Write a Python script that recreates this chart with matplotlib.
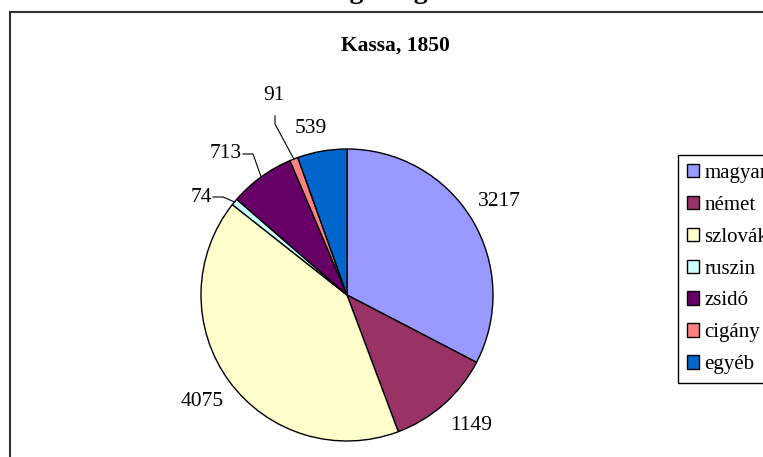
import matplotlib
matplotlib.use("Agg")
import matplotlib.pyplot as plt
from matplotlib.patches import Rectangle, Patch
import numpy as np

# adatok
nemzetiseg = ["magyar", "német", "szlovák", "ruszin", "zsidó", "cigány", "egyéb"]
lakosok = [3217, 1149, 4075, 74, 713, 91, 539]
szinek = ["#9999FF", "#993366", "#FFFFCC", "#CCFFFF", "#660066", "#FF8080", "#0066CC"]

# címkék helye (pixel), és a vezetővonalak töréspontja
W, H = 763, 457
cx, cy, R = 347, 295, 146
cimke_hely = [(499, 202), (471, 425), (202, 401), (201, 197), (226, 154), (274, 96), (311, 129)]
vonal_kezdet = {3: (213, 197), 4: (243, 154), 5: (275, 116)}
vonal_tores = {3: (223, 197), 4: (253, 154), 5: (275, 124)}

plt.rcParams["font.family"] = ["Liberation Serif", "DejaVu Serif"]

fig = plt.figure(figsize=(W / 100, H / 100), dpi=100)
ax = fig.add_axes([(cx - R) / W, (H - cy - R) / H, 2 * R / W, 2 * R / H])

wedges, _ = ax.pie(lakosok, colors=szinek, startangle=90, counterclock=False,
                   wedgeprops=dict(edgecolor="black", linewidth=1.0))
ax.set_xlim(-1, 1)
ax.set_ylim(-1, 1)
ax.set_aspect("equal")
ax.axis("off")

def px2data(p):
    return ((p[0] - cx) / R, (cy - p[1]) / R)

ossz = sum(lakosok)
kum = np.cumsum([0] + lakosok)
for i, v in enumerate(lakosok):
    x, y = px2data(cimke_hely[i])
    ax.text(x, y, str(v), fontsize=15.5, ha="center", va="center", clip_on=False)
    if i in vonal_kezdet:
        fel = (kum[i] + v / 2) / ossz * 2 * np.pi
        ex, ey = np.sin(fel), np.cos(fel)
        p1 = px2data(vonal_kezdet[i])
        p2 = px2data(vonal_tores[i])
        ax.plot([p1[0], p2[0], ex], [p1[1], p2[1], ey], color="black", lw=0.8, clip_on=False)

# keret
fig.patches.append(Rectangle((10 / W, -0.1), 1.2, 1.1 - 12 / H, transform=fig.transFigure,
                             fill=False, edgecolor="#333333", linewidth=1.5))

fig.text(395 / W, 1 - 46 / H, "Kassa, 1850", fontsize=15.5, fontweight="bold",
         ha="center", va="center")
fig.text(363 / W, 1 + 2 / H, "Nemzetiségi megoszlás", fontsize=20, fontweight="bold",
         ha="center", va="baseline")

kezek = [Patch(facecolor=c, edgecolor="black", linewidth=1.0) for c in szinek]
leg = fig.legend(kezek, nemzetiseg, loc="upper left", bbox_to_anchor=(678 / W, 1 - 155 / H),
                 borderaxespad=0, fancybox=False, edgecolor="black", framealpha=1,
                 fontsize=15, handlelength=0.6, handleheight=0.6, handletextpad=0.25,
                 labelspacing=0.62, borderpad=0.42)
leg.get_frame().set_linewidth(1.0)

fig.savefig("out.png", dpi=100)
